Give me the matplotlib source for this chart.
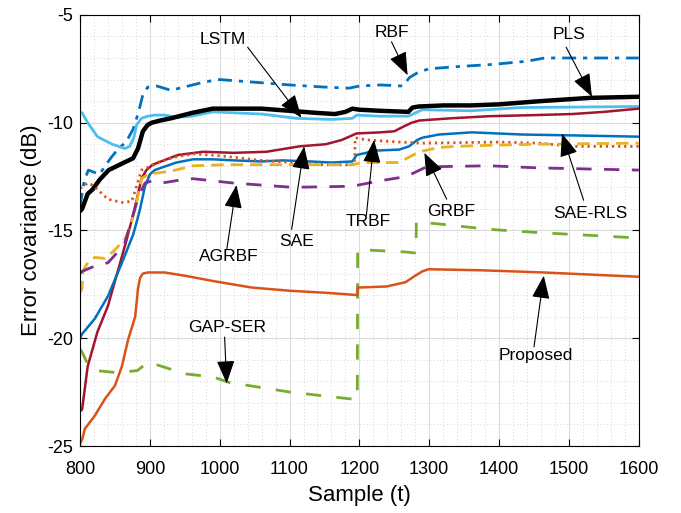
import numpy as np
import matplotlib
matplotlib.use('Agg')
import matplotlib.pyplot as plt
from matplotlib.ticker import MultipleLocator

plt.rcParams['font.family'] = ['Liberation Sans', 'DejaVu Sans']
plt.rcParams['axes.unicode_minus'] = False

# ---- data (sample, error covariance in dB) ----
rbf_x = [800, 806, 812, 820, 828, 836, 845, 855, 866, 876, 883, 890, 897, 910, 930, 955,
         980, 1000, 1040, 1100, 1150, 1185, 1200, 1230, 1262, 1272, 1285, 1300, 1340, 1390,
         1440, 1465, 1500, 1600]
rbf_y = [-13.9, -12.7, -12.2, -12.3, -12.4, -12.0, -11.6, -11.2, -10.9, -10.3, -9.6, -8.7,
         -8.35, -8.3, -8.5, -8.3, -8.1, -8.0, -8.1, -8.25, -8.35, -8.4, -8.3, -8.25, -8.3,
         -7.9, -7.65, -7.5, -7.4, -7.3, -7.15, -7.0, -7.0, -7.0]

pls_x = [800, 803, 811, 818, 828, 841, 860, 876, 883, 890, 897, 903, 915, 930, 960, 990,
         1030, 1060, 1100, 1140, 1165, 1180, 1190, 1200, 1230, 1270, 1276, 1285, 1320, 1360,
         1400, 1460, 1530, 1600]
pls_y = [-14.1, -14.0, -13.3, -13.1, -12.65, -12.2, -11.9, -11.65, -11.2, -10.4, -10.1,
         -10.0, -9.9, -9.8, -9.55, -9.35, -9.35, -9.35, -9.45, -9.55, -9.6, -9.5, -9.35,
         -9.4, -9.45, -9.5, -9.3, -9.25, -9.2, -9.2, -9.15, -9.0, -8.85, -8.8]

lstm_x = [800, 803, 811, 825, 846, 864, 871, 877, 881, 888, 897, 907, 920, 940, 960, 990,
          1060, 1110, 1160, 1190, 1196, 1230, 1270, 1280, 1290, 1360, 1430, 1600]
lstm_y = [-9.5, -9.55, -10.0, -10.65, -11.0, -11.2, -11.1, -10.7, -10.1, -9.8, -9.7, -9.65,
          -9.65, -9.75, -9.7, -9.5, -9.6, -9.8, -9.85, -9.8, -9.65, -9.7, -9.7, -9.55, -9.4,
          -9.45, -9.3, -9.25]

sae_x = [800, 803, 811, 825, 840, 854, 867, 875, 881, 888, 895, 904, 920, 940, 976, 1020,
         1067, 1114, 1152, 1175, 1196, 1230, 1250, 1262, 1275, 1286, 1330, 1386, 1450, 1505,
         1550, 1600]
sae_y = [-23.4, -23.3, -21.3, -19.7, -18.5, -16.9, -15.4, -14.4, -13.6, -12.6, -12.2,
         -11.95, -11.75, -11.5, -11.35, -11.4, -11.35, -11.1, -11.0, -10.8, -10.5, -10.45,
         -10.4, -10.2, -10.0, -9.9, -9.8, -9.7, -9.65, -9.6, -9.5, -9.35]

saerls_x = [800, 803, 821, 840, 860, 876, 882, 886, 893, 900, 907, 920, 938, 962, 990, 1020,
            1060, 1090, 1130, 1160, 1190, 1196, 1210, 1220, 1257, 1271, 1283, 1290, 1314,
            1361, 1433, 1520, 1600]
saerls_y = [-20.0, -19.8, -19.1, -18.05, -16.5, -15.2, -14.5, -14.0, -12.95, -12.4, -12.2,
            -12.05, -11.85, -11.7, -11.7, -11.75, -11.8, -11.75, -11.8, -11.85, -11.8, -11.5,
            -11.4, -11.3, -11.25, -11.1, -10.8, -10.7, -10.55, -10.45, -10.55, -10.6, -10.65]

trbf_x = [800, 803, 811, 818, 825, 840, 860, 874, 881, 888, 903, 914, 936, 962, 986, 1020,
          1057, 1104, 1150, 1193, 1194, 1210, 1257, 1290, 1400, 1457, 1505, 1600]
trbf_y = [-13.0, -13.0, -12.8, -12.9, -13.1, -13.55, -13.7, -13.65, -12.95, -12.2, -12.0,
          -11.8, -11.6, -11.45, -11.5, -11.6, -11.75, -11.85, -11.95, -11.95, -10.7, -10.8,
          -10.9, -10.95, -10.9, -10.95, -11.1, -11.1]

grbf_x = [800, 803, 804, 811, 821, 836, 850, 864, 871, 881, 888, 900, 907, 930, 962, 1010,
          1100, 1190, 1204, 1257, 1271, 1286, 1314, 1340, 1386, 1457, 1600]
grbf_y = [-17.9, -17.7, -16.9, -16.5, -16.25, -16.3, -15.9, -15.4, -14.95, -13.7, -12.6,
          -12.35, -12.35, -12.25, -12.0, -11.95, -11.95, -11.95, -11.85, -11.85, -11.6,
          -11.35, -11.15, -11.1, -11.05, -11.0, -10.95]

agrbf_x = [800, 803, 825, 840, 854, 864, 874, 884, 893, 903, 917, 946, 962, 1019, 1104,
           1190, 1229, 1267, 1280, 1296, 1386, 1457, 1600]
agrbf_y = [-17.0, -16.9, -16.6, -16.5, -16.0, -15.6, -14.5, -13.4, -12.8, -12.7, -12.8,
           -12.65, -12.6, -12.8, -13.0, -12.95, -12.7, -12.5, -12.3, -12.05, -12.0, -12.1,
           -12.2]

gapser_x = [800, 803, 811, 823, 854, 882, 898, 907, 950, 991, 1013, 1101, 1197, 1197.5,
            1207, 1266, 1281, 1281.5, 1314, 1386, 1457, 1600]
gapser_y = [-20.5, -20.65, -21.2, -21.5, -21.6, -21.5, -21.1, -21.2, -21.65, -21.8, -22.05,
            -22.5, -22.85, -15.9, -15.9, -16.0, -16.05, -14.6, -14.7, -14.95, -15.1, -15.35]

prop_x = [800, 803, 807, 821, 836, 850, 860, 869, 879, 883, 886, 890, 897, 921, 950, 991,
          1046, 1101, 1156, 1197, 1197.5, 1239, 1266, 1280, 1290, 1299, 1376, 1464, 1600]
prop_y = [-24.9, -24.7, -24.2, -23.6, -22.8, -22.2, -21.3, -20.05, -19.0, -17.7, -17.2,
          -17.0, -16.95, -16.95, -17.1, -17.35, -17.65, -17.8, -17.9, -18.0, -17.65, -17.6,
          -17.4, -17.1, -16.9, -16.8, -16.85, -16.95, -17.15]

# label text position, arrow tail, arrow head
notes = [
    ('LSTM', (1004, -6.15), (1040, -6.5), (1117, -9.77)),
    ('RBF', (1247, -5.8), (1246, -6.25), (1269, -7.8)),
    ('PLS', (1500, -5.9), (1496, -6.5), (1533, -8.8)),
    ('SAE', (1110, -15.5), (1103, -14.95), (1121, -11.1)),
    ('AGRBF', (1013, -16.2), (1010, -15.9), (1024, -12.9)),
    ('TRBF', (1213, -14.6), (1210, -14.3), (1221, -10.8)),
    ('GRBF', (1331, -14.1), (1325, -13.55), (1293, -11.4)),
    ('SAE-RLS', (1531, -14.2), (1521, -13.6), (1490, -10.5)),
    ('GAP-SER', (1010, -19.5), (1007, -19.95), (1010, -22.1)),
    ('Proposed', (1453, -20.8), (1450, -20.4), (1464, -17.1)),
]

fig = plt.figure(figsize=(6.81, 5.13), dpi=100)
ax = fig.add_axes([0.1175, 0.1306, 0.8205, 0.8404])

ax.plot(rbf_x, rbf_y, color='#0072BD', lw=2, ls='-.', dashes=(5, 2.5, 1.5, 2.5))
ax.plot(lstm_x, lstm_y, color='#4DBEEE', lw=2)
ax.plot(pls_x, pls_y, color='k', lw=3.2)
ax.plot(sae_x, sae_y, color='#A2142F', lw=1.8)
ax.plot(saerls_x, saerls_y, color='#0072BD', lw=1.8)
ax.plot(trbf_x, trbf_y, color='#D95319', lw=2, ls=(0, (0.8, 1.4)))
ax.plot(grbf_x, grbf_y, color='#EDB120', lw=2, ls=(0, (4.5, 2.5)))
ax.plot(agrbf_x, agrbf_y, color='#7E2F8E', lw=2, ls=(0, (5.5, 4.5)))
ax.plot(gapser_x, gapser_y, color='#77AC30', lw=2, ls=(0, (5.5, 5.5)))
ax.plot(prop_x, prop_y, color='#D95319', lw=1.8)

for label, txt, tail, head in notes:
    ax.text(txt[0], txt[1], label, fontsize=12.5, ha='center', va='center')
    ax.annotate('', xy=head, xytext=tail,
                arrowprops=dict(arrowstyle='-|>,head_length=0.9,head_width=0.35',
                                color='k', lw=0.8, mutation_scale=16,
                                shrinkA=0, shrinkB=0))

ax.set_xlim(800, 1600)
ax.set_ylim(-25, -5)
ax.xaxis.set_major_locator(MultipleLocator(100))
ax.xaxis.set_minor_locator(MultipleLocator(20))
ax.yaxis.set_major_locator(MultipleLocator(5))
ax.yaxis.set_minor_locator(MultipleLocator(1))
ax.grid(which='major', color='#DCDCDC', lw=0.8, ls='-')
ax.grid(which='minor', color='#C8C8C8', lw=0.6, ls=(0, (1, 3)))
ax.set_axisbelow(True)
ax.tick_params(which='major', direction='in', top=True, right=True, length=5,
               width=0.8, labelsize=13)
ax.tick_params(axis='x', which='major', pad=11)
ax.tick_params(axis='y', which='major', pad=5)
ax.tick_params(which='minor', length=0)
for s in ax.spines.values():
    s.set_linewidth(0.8)

ax.set_xlabel('Sample (t)', fontsize=16, labelpad=5)
ax.set_ylabel('Error covariance (dB)', fontsize=16)

fig.savefig('out.png', dpi=100)
